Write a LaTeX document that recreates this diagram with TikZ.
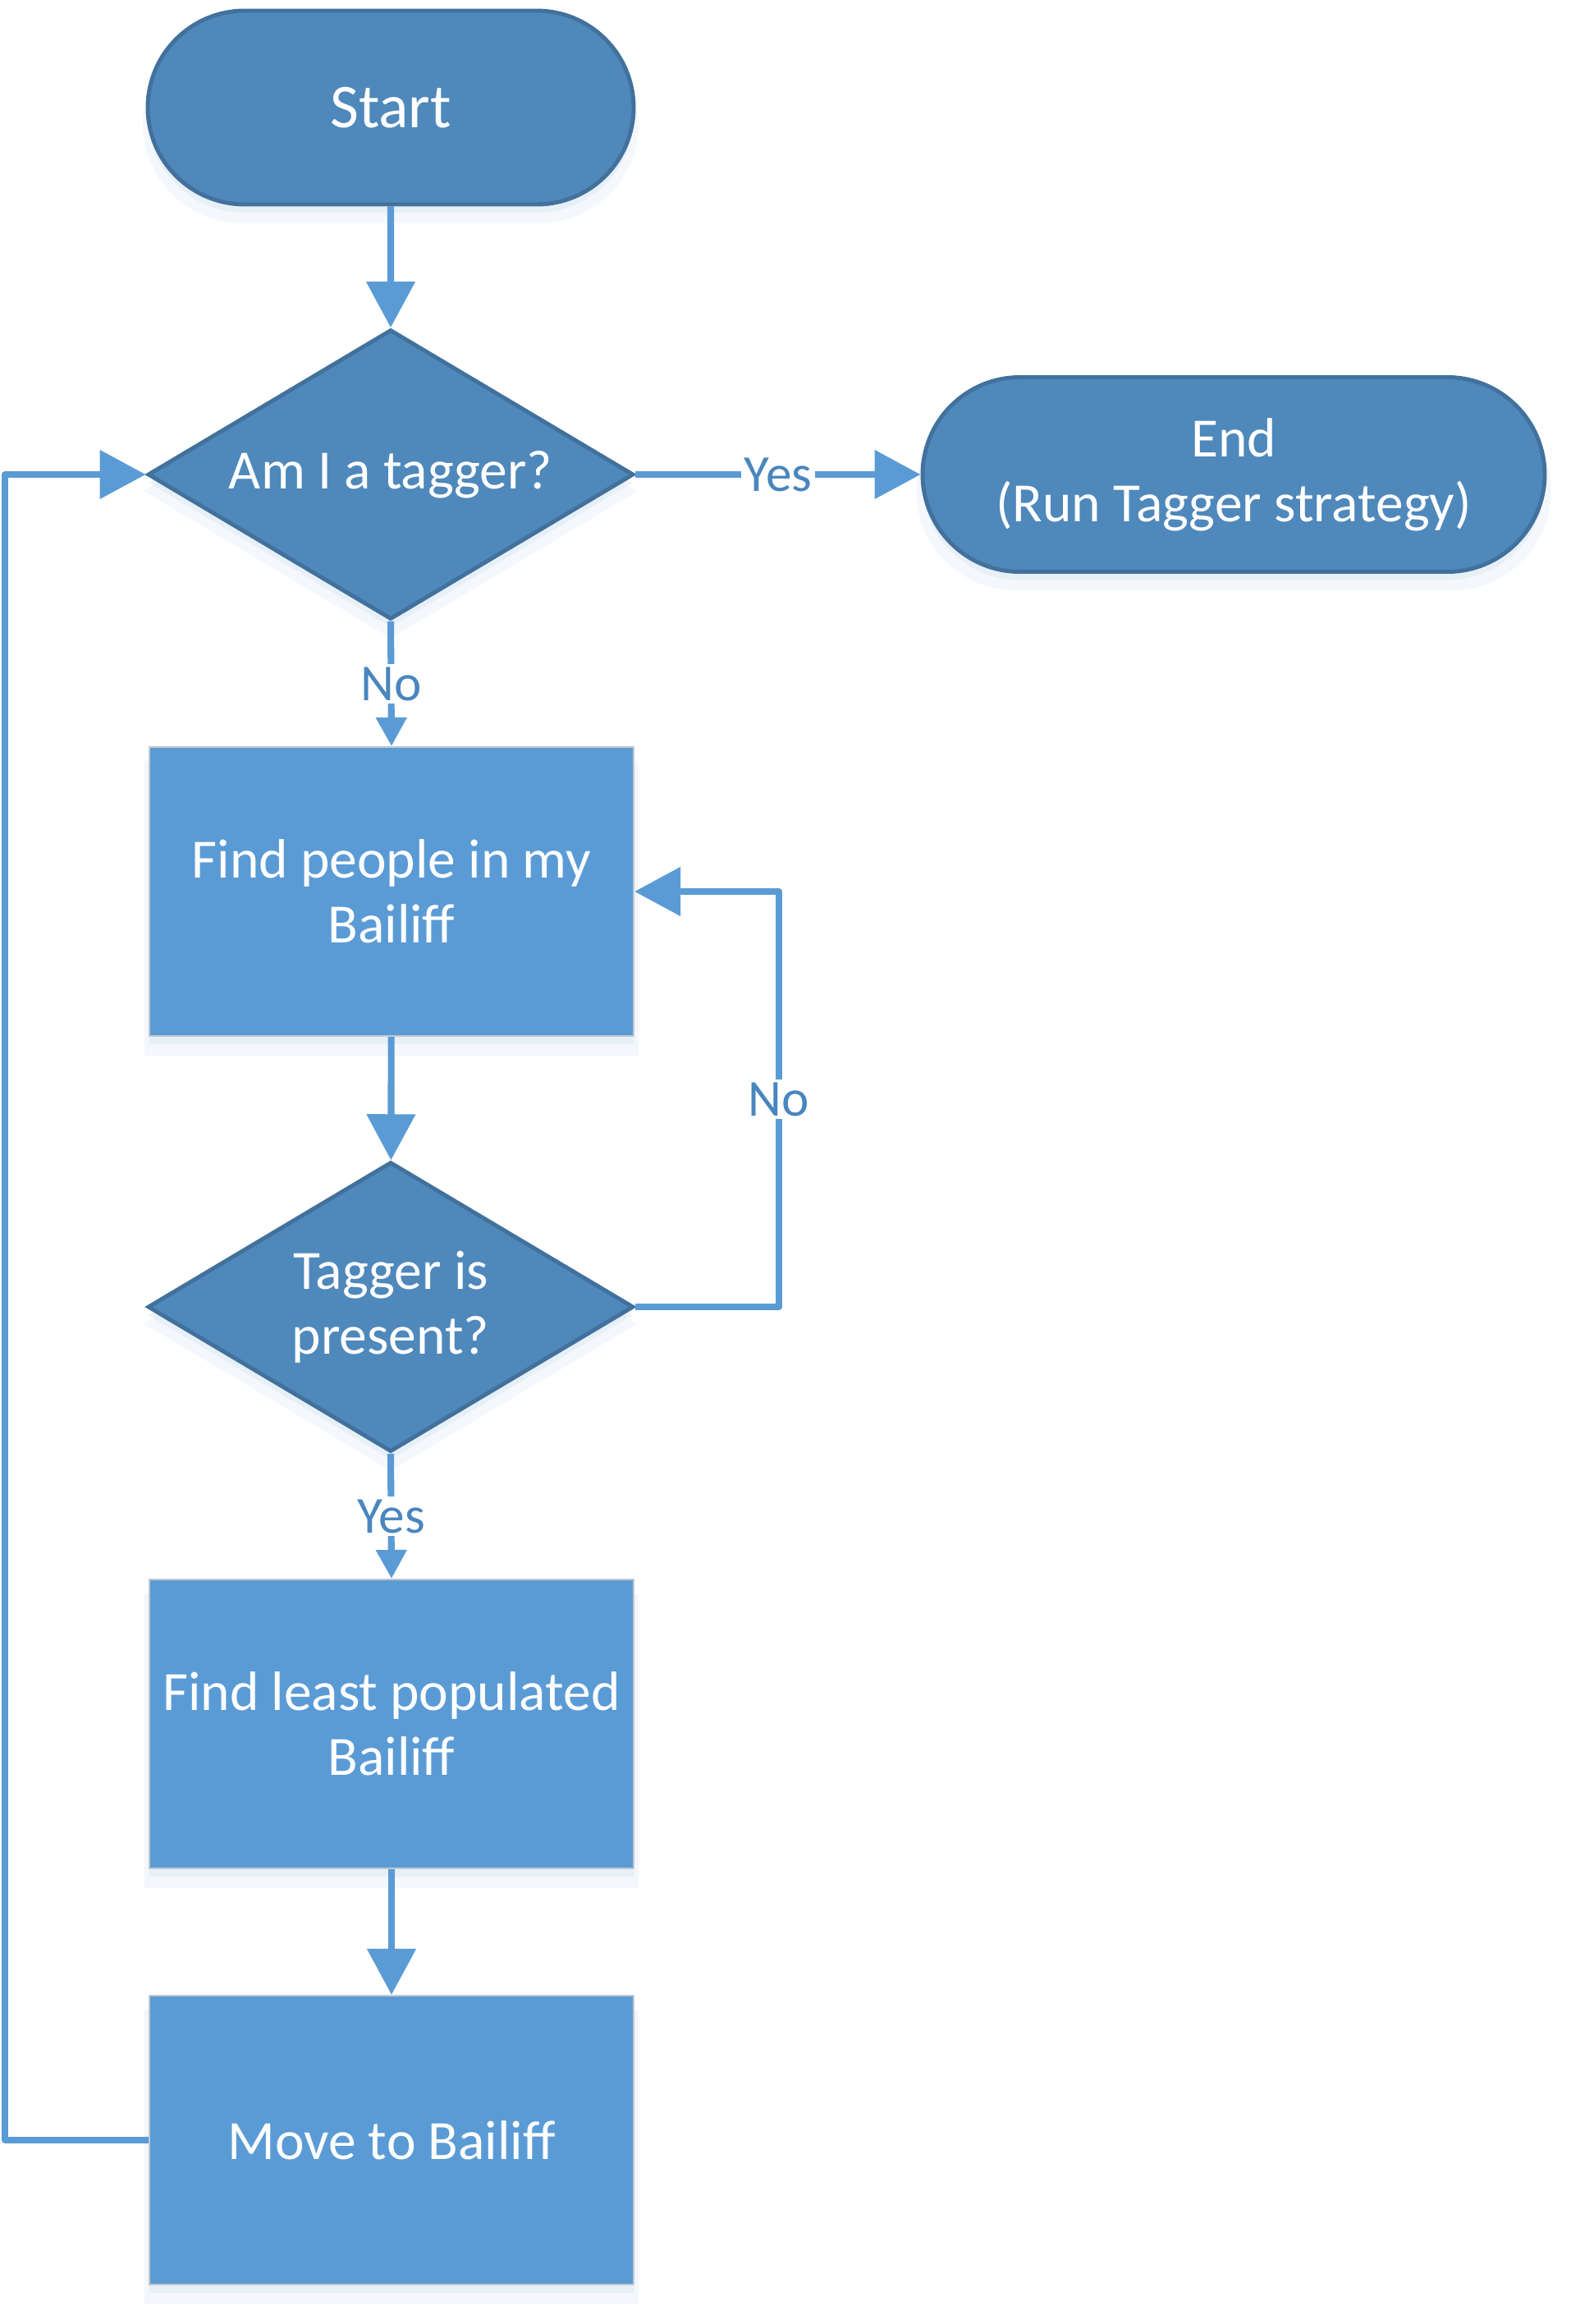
\documentclass[tikz,border=0pt]{standalone}
\usepackage{fontspec}
\setmainfont{Carlito}
\usetikzlibrary{shapes.geometric,shapes.misc,arrows.meta,shadows}

\definecolor{termfill}{HTML}{4F88BB}
\definecolor{termdraw}{HTML}{41719C}
\definecolor{procfill}{HTML}{5B9BD5}
\definecolor{procdraw}{HTML}{C3C9D0}
\definecolor{flowcol}{HTML}{5B9BD5}
\definecolor{lblcol}{HTML}{4A86BE}
\definecolor{glowcol}{HTML}{D3E1F1}

\tikzset{
	soft/.style={general shadow={fill=glowcol, opacity=.25, shadow yshift=-0.2cm, shadow scale=1.02},
		general shadow={fill=glowcol, opacity=.4, shadow yshift=-0.1cm}},
	boxfont/.style={font=\fontsize{19.2}{22.5}\selectfont},
	term/.style={rounded rectangle, draw=termdraw, line width=1.4pt, fill=termfill, text=white, boxfont, align=center, inner sep=0pt, soft},
	decide/.style={diamond, aspect=1.68, draw=termdraw, line width=1.4pt, fill=termfill, text=white, boxfont, align=center, inner sep=0pt, minimum width=5.92cm, minimum height=3.53cm, soft},
	proc/.style={rectangle, draw=procdraw, line width=0.6pt, fill=procfill, text=white, boxfont, align=center, inner sep=2pt, minimum width=5.9cm, minimum height=3.52cm, soft},
	flow/.style={draw=flowcol, line width=2.3pt, line join=round, -{Triangle[width=0.58cm,length=0.56cm]}},
	flowsm/.style={flow, -{Triangle[width=0.36cm,length=0.35cm]}},
	lbl/.style={fill=white, text=lblcol, font=\fontsize{18}{20}\selectfont, inner sep=1pt}
}

\begin{document}
\begin{tikzpicture}
	\useasboundingbox (0, 0) rectangle (19.13, -28.31);
	% Shapes:
	\node[term, font=\fontsize{21.6}{24}\selectfont, minimum width=5.92cm, minimum height=2.36cm](start) at (4.76, -1.31){Start};
	\node[decide](tagger) at (4.76, -5.78){Am I a tagger?};
	\node[term, minimum width=7.58cm, minimum height=2.37cm](stop) at (15.03, -5.78){End\\(Run Tagger strategy)};
	\node[proc](findpeople) at (4.77, -10.86){Find people in my\\Bailiff};
	\node[decide](present) at (4.76, -15.92){Tagger is\\present?};
	\node[proc](findleast) at (4.77, -21.00){Find least populated\\Bailiff};
	\node[proc](move) at (4.77, -26.07){Move to Bailiff};
	\coordinate (rx) at (9.49, 0);
	\coordinate (lx) at (0.06, 0);
	% Arrows and labels:
	\draw[flow] (start) -- (tagger);
	\draw[flow] (tagger.east) -- node[lbl](yes1){Yes} (stop.west);
	\draw[flowsm] (tagger.south) -- node[lbl](no1){No} (findpeople.north);
	\draw[flow] (findpeople) -- (present);
	\draw[flow] (present.east) -- (present.east -| rx) -- node[lbl](no2){No} (findpeople.east -| rx) -- (findpeople.east);
	\draw[flowsm] (present.south) -- node[lbl](yes2){Yes} (findleast.north);
	\draw[flow] (findleast) -- (move);
	\draw[flow] (move.west) -- (move.west -| lx) -- (tagger.west -| lx) -- (tagger.west);
\end{tikzpicture}
\end{document}
